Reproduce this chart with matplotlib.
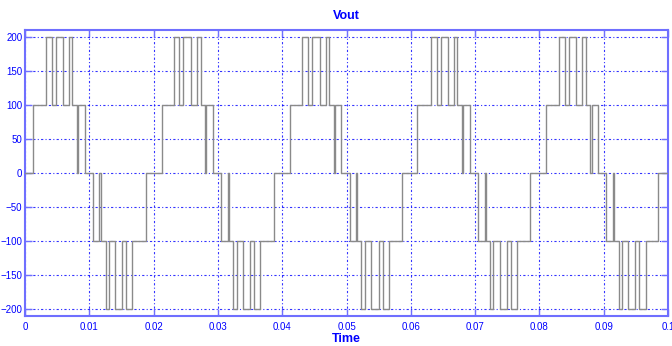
import matplotlib
matplotlib.use("Agg")
import matplotlib.pyplot as plt

# Switching instants (s) and the output level after each instant, per cycle
levels = [100, 200, 100, 200, 100, 200, 100, 0, 100, 0,
          -100, 0, -100, -200, -100, -200, -100, -200, -100, 0]

cycle1_t = [0.00121, 0.00323, 0.00416, 0.00478, 0.00597, 0.00690, 0.00737, 0.00805, 0.00830, 0.00934,
            0.01053, 0.01157, 0.01183, 0.01260, 0.01312, 0.01400, 0.01504, 0.01571, 0.01669, 0.01877]
cycle2_t = [0.02125, 0.02322, 0.02399, 0.02461, 0.02586, 0.02679, 0.02731, 0.02799, 0.02822, 0.02928,
            0.03047, 0.03161, 0.03177, 0.03239, 0.03301, 0.03384, 0.03498, 0.03565, 0.03659, 0.03871]
cycle3_t = [0.04115, 0.04311, 0.04399, 0.04467, 0.04591, 0.04674, 0.04731, 0.04798, 0.04824, 0.04917,
            0.05047, 0.05150, 0.05166, 0.05228, 0.05290, 0.05383, 0.05498, 0.05565, 0.05663, 0.05860]
cycle4_t = [0.06104, 0.06311, 0.06404, 0.06477, 0.06585, 0.06679, 0.06725, 0.06803, 0.06818, 0.06922,
            0.07046, 0.07150, 0.07171, 0.07233, 0.07285, 0.07388, 0.07497, 0.07564, 0.07658, 0.07860]
cycle5_t = [0.08103, 0.08300, 0.08398, 0.08466, 0.08575, 0.08668, 0.08720, 0.08792, 0.08813, 0.08911,
            0.09035, 0.09139, 0.09165, 0.09237, 0.09284, 0.09377, 0.09486, 0.09553, 0.09652, 0.09849]

t_start, t_end = 0.0, 0.1
x_ticks = [0, 0.01, 0.02, 0.03, 0.04, 0.05, 0.06, 0.07, 0.08, 0.09, 0.1]
x_tick_labels = ["0", "0.01", "0.02", "0.03", "0.04", "0.05", "0.06", "0.07", "0.08", "0.09", "0.1"]
y_ticks = [-200, -150, -100, -50, 0, 50, 100, 150, 200]

t = [t_start]
v = [0]
for ct in (cycle1_t, cycle2_t, cycle3_t, cycle4_t, cycle5_t):
    t += ct
    v += levels
t.append(t_end)
v.append(0)

font = ["Liberation Sans Narrow", "Liberation Sans", "DejaVu Sans"]
blue = "#0000ff"
frame_blue = "#6f6fff"

fig = plt.figure(figsize=(6.72, 3.46), dpi=100)
ax = fig.add_axes([25 / 672, 1 - 316 / 346, (668 - 25) / 672, (316 - 30) / 346])
ax.step(t, v, where="post", color="#8a8a8a", lw=1.0, zorder=3)

ax.set_xlim(0, 0.1)
ax.set_ylim(-210, 210)
ax.set_xticks(x_ticks)
ax.set_xticklabels(x_tick_labels)
ax.set_yticks(y_ticks)

ax.grid(True, color=blue, linestyle=(0, (2, 2, 1, 2)), linewidth=0.8, alpha=0.8)
for s in ax.spines.values():
    s.set_color(frame_blue)
    s.set_linewidth(1.5)
ax.tick_params(direction="in", length=5, width=1, color=frame_blue,
               top=True, right=True, labelsize=7, labelcolor=blue)
ax.tick_params(axis="x", pad=4)
ax.tick_params(axis="y", pad=2)
for lab in ax.get_xticklabels() + ax.get_yticklabels():
    lab.set_family(font)

ax.set_title("Vout", color=blue, fontsize=9, fontweight="bold", family=font, pad=8)
ax.set_xlabel("Time", color=blue, fontsize=9, fontweight="bold", family=font, labelpad=1)

fig.savefig("out.png", dpi=100)
